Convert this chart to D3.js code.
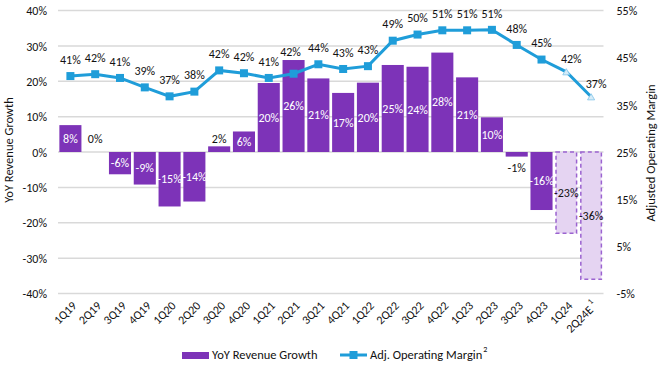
<!DOCTYPE html>
<html><head><meta charset="utf-8">
<script src="https://cdn.jsdelivr.net/npm/d3@7"></script>
<style>
html,body{margin:0;padding:0;background:#fff;}
svg text{font-family:Calibri, Carlito, Lato, "Open Sans", sans-serif;}
</style></head>
<body><svg id="c" width="663" height="366"></svg>
<script>
const categories = ["1Q19","2Q19","3Q19","4Q19","1Q20","2Q20","3Q20","4Q20","1Q21","2Q21","3Q21","4Q21","1Q22","2Q22","3Q22","4Q22","1Q23","2Q23","3Q23","4Q23","1Q24","2Q24E"];
const revenueGrowth = [7.6,0,-6.3,-9.2,-15.4,-14.0,1.6,5.8,19.5,26.0,20.8,16.7,19.6,24.6,24.1,28.1,21.1,9.8,-1.3,-16.4,-23.0,-36.0];
const operatingMargin = [41.1,41.5,40.7,38.7,36.8,37.8,42.3,41.7,40.7,41.6,43.6,42.6,43.2,48.6,49.9,50.8,50.8,50.9,47.7,44.6,42.0,36.7];
const estimateFlags = [0,0,0,0,0,0,0,0,0,0,0,0,0,0,0,0,0,0,0,0,1,1];
const leftTicks = [40,30,20,10,0,-10,-20,-30,-40];
const rightTicks = [55,45,35,25,15,5,-5];

const svg = d3.select("#c");
const pTop = 10.5, pBottom = 293.5, pLeft = 58, pRight = 603.5;
const x = d3.scaleBand().domain(categories).range([pLeft,pRight]).paddingInner(0.11).paddingOuter(0.055);
const yL = d3.scaleLinear().domain([-40,40]).range([pBottom,pTop]);
const yR = d3.scaleLinear().domain([-5,55]).range([pBottom,pTop]);
const blue = "#1f9dd9", purple = "#7d33b8", lightFill = "#e5d4f2", dashStroke = "#9b63d0";
const textCol = "#111";

// gridlines
svg.append("g").selectAll("line").data(leftTicks).join("line")
  .attr("x1",pLeft).attr("x2",pRight)
  .attr("y1",d=>yL(d)).attr("y2",d=>yL(d))
  .attr("stroke","#d9d9d9").attr("stroke-width",1.5);

// left axis
const axL = svg.append("g").attr("transform",`translate(${pLeft-4},0)`)
  .call(d3.axisLeft(yL).tickValues(leftTicks).tickSize(0).tickPadding(7).tickFormat(d=>d+"%"));
axL.select(".domain").remove();
axL.selectAll("text").attr("font-size",12).attr("fill",textCol).attr("dy","0.35em");

// right axis
const axR = svg.append("g").attr("transform",`translate(${pRight+6},0)`)
  .call(d3.axisRight(yR).tickValues(rightTicks).tickSize(0).tickPadding(7).tickFormat(d=>d+"%"));
axR.select(".domain").remove();
axR.selectAll("text").attr("font-size",12).attr("fill",textCol).attr("dy","0.35em");

// bars
const idx = d3.range(categories.length);
svg.append("g").selectAll("rect").data(idx).join("rect")
  .attr("x",i=>x(categories[i]) + (estimateFlags[i]?0.75:0))
  .attr("width",i=>x.bandwidth() - (estimateFlags[i]?1.5:0))
  .attr("y",i=>yL(Math.max(0,revenueGrowth[i])))
  .attr("height",i=>Math.abs(yL(revenueGrowth[i])-yL(0)))
  .attr("fill",i=>estimateFlags[i]?lightFill:purple)
  .attr("stroke",i=>estimateFlags[i]?dashStroke:"none")
  .attr("stroke-width",1.5)
  .attr("stroke-dasharray",i=>estimateFlags[i]?"4,3":null);

// bar labels
svg.append("g").selectAll("text").data(idx).join("text")
  .attr("x",i=>x(categories[i])+x.bandwidth()/2)
  .attr("y",i=>{
    const v = revenueGrowth[i];
    if (Math.abs(v) < 3) return v >= 0 ? yL(0)-13 : yL(0)+16;
    return (yL(v)+yL(0))/2;
  })
  .attr("dy","0.35em")
  .attr("text-anchor","middle").attr("font-size",12)
  .attr("fill",i=>(Math.abs(revenueGrowth[i])<3 || estimateFlags[i])?textCol:"#fff")
  .text(i=>Math.round(revenueGrowth[i])+"%");

// line
const line = d3.line().x((d,i)=>x(categories[i])+x.bandwidth()/2).y(d=>yR(d));
svg.append("path").datum(operatingMargin).attr("d",line)
  .attr("fill","none").attr("stroke",blue).attr("stroke-width",3);

// markers
svg.append("g").selectAll("rect").data(idx.filter(i=>!estimateFlags[i])).join("rect")
  .attr("x",i=>x(categories[i])+x.bandwidth()/2-4)
  .attr("y",i=>yR(operatingMargin[i])-4)
  .attr("width",8).attr("height",8).attr("fill",blue);
svg.append("g").selectAll("path").data(idx.filter(i=>estimateFlags[i])).join("path")
  .attr("transform",i=>`translate(${x(categories[i])+x.bandwidth()/2},${yR(operatingMargin[i])+1})`)
  .attr("d",d3.symbol(d3.symbolTriangle,22))
  .attr("fill","#d6ecf8").attr("stroke","#7fc3e8").attr("stroke-width",0.8);

// line labels
svg.append("g").selectAll("text").data(idx).join("text")
  .attr("x",i=>x(categories[i])+x.bandwidth()/2 + (estimateFlags[i]?5:0) - (i===9?3:0))
  .attr("y",i=>yR(operatingMargin[i]) - (i===9?22:(estimateFlags[i]?13:16.5)))
  .attr("dy","0.35em")
  .attr("text-anchor","middle").attr("font-size",12).attr("fill",textCol)
  .text(i=>Math.round(operatingMargin[i])+"%");

// x labels
const xl = svg.append("g").selectAll("text").data(idx).join("text")
  .attr("transform",i=>`translate(${x(categories[i])+x.bandwidth()/2+4},${pBottom+10}) rotate(-45)`)
  .attr("text-anchor","end").attr("font-size",12).attr("fill",textCol)
  .attr("dy","0.35em");
xl.text(i=>categories[i]);
xl.filter(i=>i===categories.length-1).append("tspan")
  .attr("font-size",8).attr("dy","-0.8em").attr("dx","2").text("1");

// axis titles
svg.append("text").attr("transform",`translate(13,150) rotate(-90)`)
  .attr("text-anchor","middle").attr("font-size",12.5).attr("fill",textCol).text("YoY Revenue Growth");
svg.append("text").attr("transform",`translate(655,153) rotate(-90)`)
  .attr("text-anchor","middle").attr("font-size",12.5).attr("fill",textCol).text("Adjusted Operating Margin");

// legend
const lg = svg.append("g");
lg.append("rect").attr("x",182).attr("y",352).attr("width",27).attr("height",7).attr("fill",purple);
lg.append("text").attr("x",212).attr("y",359).attr("font-size",12.5).attr("fill",textCol).text("YoY Revenue Growth");
lg.append("line").attr("x1",340).attr("x2",367).attr("y1",355).attr("y2",355).attr("stroke",blue).attr("stroke-width",3);
lg.append("rect").attr("x",349.5).attr("y",351).attr("width",8).attr("height",8).attr("fill",blue);
const lt = lg.append("text").attr("x",370).attr("y",359).attr("font-size",12.5).attr("fill",textCol).text("Adj. Operating Margin");
lt.append("tspan").attr("font-size",8).attr("dy","-0.9em").attr("dx","1").text("2");
</script></body></html>
